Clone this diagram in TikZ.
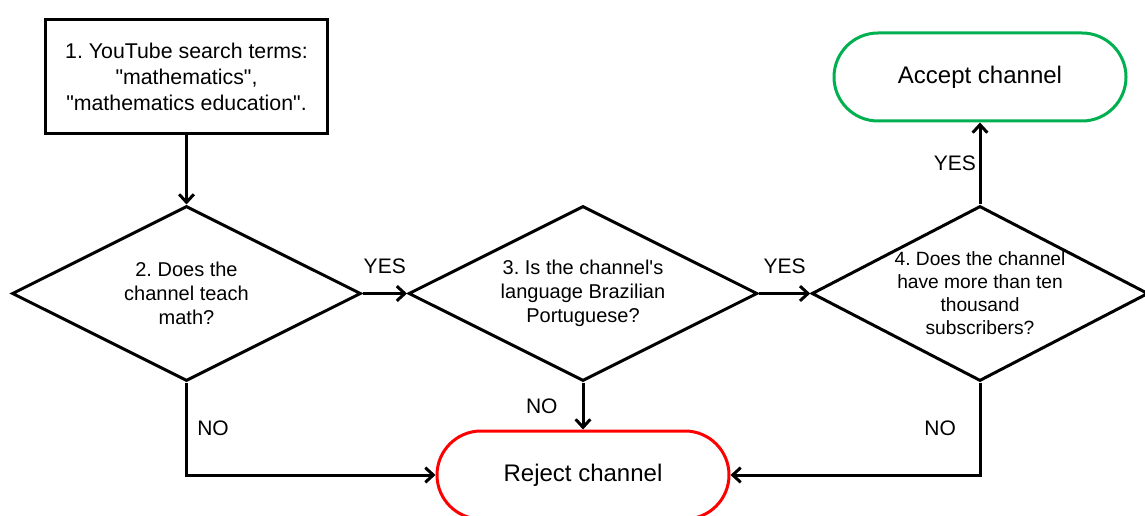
\documentclass[tikz,border=0pt]{standalone}
\usepackage{fontspec}
\setmainfont{Liberation Sans}
\usepackage{tikz}
\usetikzlibrary{arrows.meta}
\usetikzlibrary{positioning}
\usetikzlibrary{shapes.geometric}

\definecolor{acceptGreen}{RGB}{0,176,80}
\definecolor{rejectRed}{RGB}{255,0,0}
\frenchspacing

\begin{document}
\begin{tikzpicture}[x=0.75pt,y=-0.75pt]
\tikzset{
    stepBox/.style={
                   draw,
                   line width=2.25pt,
                   minimum width=211.5pt,
                   minimum height=85.5pt,
                   align=center,
                   font=\fontsize{16}{19.5}\selectfont
    },
    question/.style={
                   draw,
                   diamond,
                   aspect=2,
                   inner sep=0pt,
                   line width=2.25pt,
                   minimum width=261.75pt,
                   minimum height=131.25pt,
                   align=center,
                   font=\fontsize{15}{18}\selectfont
    },
    terminal/.style={
                   draw,
                   line width=2.25pt,
                   rounded corners=33pt,
                   minimum width=219pt,
                   minimum height=66pt,
                   font=\fontsize{18}{21}\selectfont
    },
    flow/.style={
                   line width=2.25pt,
                   -{Straight Barb[length=6pt,width=11pt,line width=2.25pt]}
    },
    answer/.style={
                   inner sep=2pt,
                   font=\fontsize{15.75}{18}\selectfont
    }
}
    \useasboundingbox (0,0) rectangle (1145,516);

    \node (search)[stepBox] at (186.5,76.5) {1. YouTube search terms:\\\textquotedbl mathematics\textquotedbl,\\\textquotedbl mathematics education\textquotedbl.};
    \node (teach)[question] at (186.5,293.5) {2. Does the\\channel teach\\math?};
    \node (lang)[question] at (583,293.5) {3. Is the channel\textquotesingle s\\language Brazilian\\Portuguese?};
    \node (subs)[question, minimum width=252pt, font=\fontsize{14.4}{17.2}\selectfont] at (980,293.5) {4. Does the channel\\have more than ten\\thousand\\subscribers?};
    \node (accept)[terminal, draw=acceptGreen] at (980,77) {Accept channel};
    \node (reject)[terminal, draw=rejectRed] at (583,475) {Reject channel};

    \draw[flow] (search) -- (teach.north);
    \draw[flow] (teach.east) -- node[answer, above=12pt] {YES} (lang.west);
    \draw[flow] (lang.east) -- node[answer, above=12pt] {YES} (subs.west);
    \draw[flow] (subs.north) -- node[answer, left] {YES} (accept.south);
    \draw[flow] (teach.south) |- node[answer, pos=0.25, right=5pt] {NO} (reject.west);
    \draw[flow] (lang.south) -- node[answer, left=16pt] {NO} (reject.north);
    \draw[flow] (subs.south) |- node[answer, pos=0.25, left=15pt] {NO} (reject.east);

\end{tikzpicture}
\end{document}
